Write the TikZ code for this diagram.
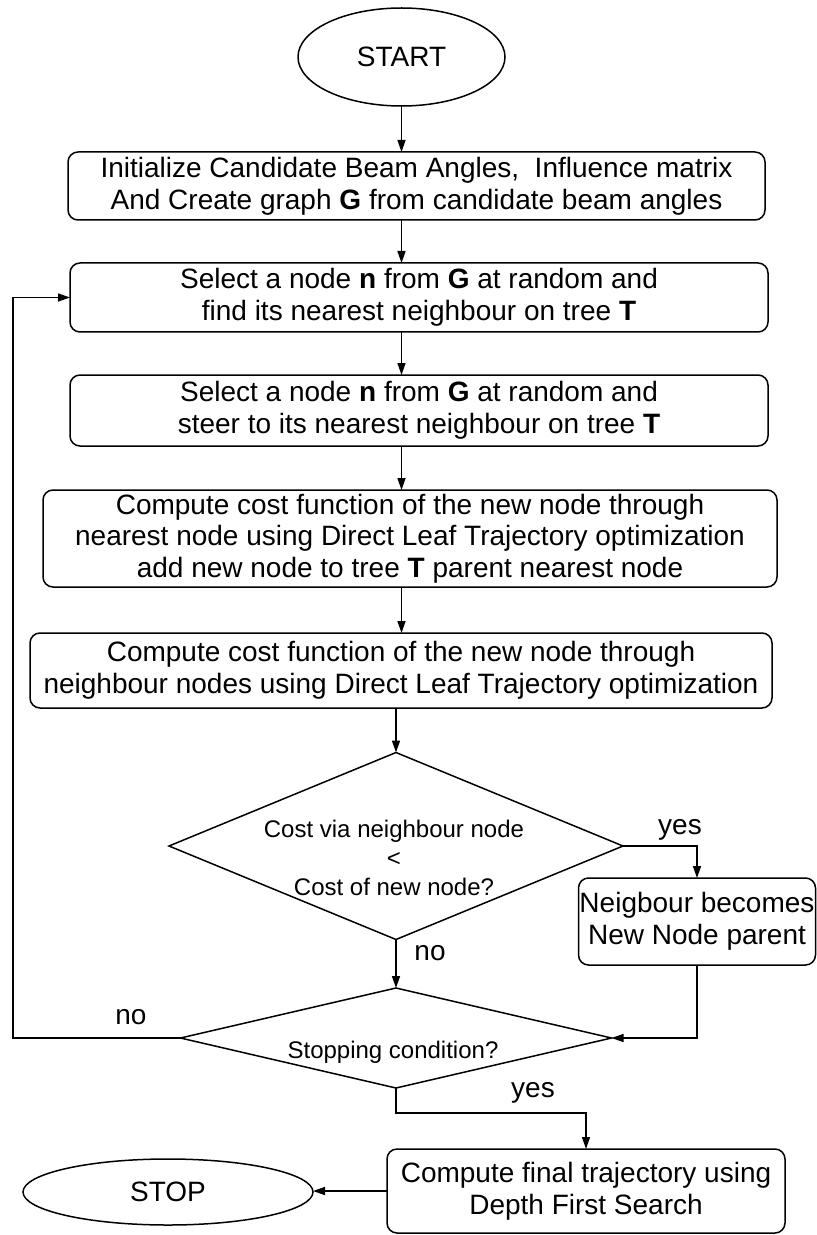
\documentclass[tikz,border=0pt]{standalone}
\usepackage{fontspec}
\setmainfont{Liberation Sans}
\usetikzlibrary{shapes.geometric,arrows.meta}
\begin{document}
\begin{tikzpicture}[x=0.5pt,y=-0.5pt,
  line width=0.75pt,
  every node/.style={inner sep=0pt, outer sep=0pt},
  proc/.style={draw, rounded corners=5pt, align=center, font=\fontsize{14}{15.8}\selectfont},
  term/.style={draw, ellipse, font=\fontsize{14}{16}\selectfont},
  dec/.style={draw, diamond},
  lbl/.style={font=\fontsize{14}{16}\selectfont},
  dtext/.style={align=center, font=\fontsize{12}{14.3}\selectfont},
  arr/.style={-{Triangle[length=6pt,width=4pt]}}
]
\useasboundingbox (0,0) rectangle (817,1235);
\node[term, minimum width=103.5pt, minimum height=49pt] (start) at (401.5,57) {START};
\node[proc, minimum width=348.5pt, minimum height=34pt] (b1) at (416.5,186)
  {Initialize Candidate Beam Angles,\ \ Influence matrix\\And Create graph \textbf{G} from candidate beam angles};
\node[proc, minimum width=349pt, minimum height=34.5pt] (b2) at (419,297.5)
  {Select a node \textbf{n} from \textbf{G} at random and\\ find its nearest neighbour on tree \textbf{T}};
\node[proc, minimum width=349pt, minimum height=35.5pt] (b3) at (419,410.5)
  {Select a node \textbf{n} from \textbf{G} at random and\\steer to its nearest neighbour on tree \textbf{T}};
\node[proc, minimum width=367pt, minimum height=48.5pt] (b4) at (410,538.5)
  {Compute cost function of the new node through\\nearest node using Direct Leaf Trajectory optimization\\add new node to tree \textbf{T} parent nearest node};
\node[proc, minimum width=371pt, minimum height=37.5pt] (b5) at (401,670.5)
  {Compute cost function of the new node through\\neighbour nodes using Direct Leaf Trajectory optimization};
\node[dec, minimum width=227pt, minimum height=93.5pt] (d1) at (396,846) {};
\node[dtext] (d1t) at (394,858) {Cost via neighbour node\\<\\Cost of new node?};
\node[proc, minimum width=118.5pt, minimum height=43.5pt] (nb) at (697,921.5)
  {Neigbour becomes\\New Node parent};
\node[dec, minimum width=215.5pt, minimum height=50pt] (d2) at (396,1038) {};
\node[dtext] (d2t) at (393,1052) {Stopping condition?};
\node[proc, minimum width=199pt, minimum height=42pt] (fin) at (586,1191)
  {Compute final trajectory using\\Depth First Search};
\node[term, minimum width=145pt, minimum height=33pt] (stop) at (168,1192) {STOP};
\node[lbl] (yes1) at (680,830) {yes};
\node[lbl] (no1) at (430,953) {no};
\node[lbl] (no2) at (131,1017) {no};
\node[lbl] (yes2) at (533,1093) {yes};
\coordinate (lp) at (13,0);
\coordinate (yb) at (396,1113);
\draw[arr] (start.south) -- (start.south |- b1.north);
\draw[arr] (b1.south -| start) -- (b2.north -| start);
\draw[arr] (b2.south -| start) -- (b3.north -| start);
\draw[arr] (b3.south -| start) -- (b4.north -| start);
\draw[arr] (b4.south -| start) -- (b5.north -| start);
\draw[arr] (b5.south -| d1) -- (d1.north);
\draw[arr] (d1.east) -| (nb.north);
\draw[arr] (d1.south) -- (d2.north);
\draw[arr] (nb.south) -- (nb.south |- d2.east) -- (d2.east);
\draw[arr] (d2.west) -| (lp |- b2.west) -- (b2.west);
\draw[arr] (d2.south) -- (yb) -| (fin.north);
\draw[arr] (fin.west) -- (fin.west -| stop.east);
\end{tikzpicture}
\end{document}
